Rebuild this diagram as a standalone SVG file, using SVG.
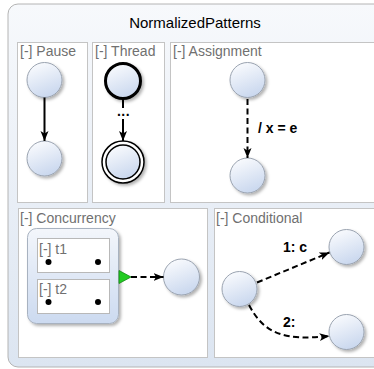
<svg xmlns="http://www.w3.org/2000/svg" width="374" height="369" viewBox="0 0 374 369">
<defs>
<linearGradient id="outerG" x1="0" y1="0" x2="0" y2="1"><stop offset="0" stop-color="#f7f9fc"/><stop offset="1" stop-color="#dce5f1"/></linearGradient>
<linearGradient id="stateG" x1="0.2" y1="0" x2="0.6" y2="1"><stop offset="0" stop-color="#fbfcfe"/><stop offset="1" stop-color="#c9d7ee"/></linearGradient>
<linearGradient id="macroG" x1="0" y1="0" x2="0" y2="1"><stop offset="0" stop-color="#f3f6fb"/><stop offset="1" stop-color="#ccdaf0"/></linearGradient>
<filter id="sh" x="-30%" y="-30%" width="170%" height="170%"><feDropShadow dx="2" dy="2" stdDeviation="1.5" flood-color="#000" flood-opacity="0.3"/></filter>
<marker id="ah" viewBox="0 0 10 10" refX="10" refY="5" markerWidth="10" markerHeight="10" markerUnits="userSpaceOnUse" orient="auto"><path d="M0,1 L10,5 L0,9 L2.5,5 Z" fill="#000"/></marker>
<style>
.panel{fill:#fff;stroke:#c4c4c4;stroke-width:1}
.lbl{font-family:"Liberation Sans",Arial,sans-serif;font-size:14px;fill:#707070}
.st{fill:url(#stateG);stroke:#9aa3b0;stroke-width:1;filter:url(#sh)}
.e{fill:none;stroke:#000;stroke-width:2}
.d{stroke-dasharray:6,3.5}
.el{font-family:"Liberation Sans",Arial,sans-serif;font-size:14px;font-weight:bold;fill:#000}
.dot{fill:#000}
</style>
</defs>
<g id="root">
<rect x="8" y="4" width="400" height="363" rx="10" fill="url(#outerG)" stroke="#b4b4b4" stroke-width="1"/>
<text x="195" y="28" text-anchor="middle" font-family="Liberation Sans,Arial,sans-serif" font-size="15" fill="#000">NormalizedPatterns</text>
</g>
<g id="pause">
<rect class="panel" x="17.5" y="42.5" width="70" height="160"/>
<text class="lbl" x="20" y="56">[-] Pause</text>
<circle id="pause-s1" class="st" cx="44.5" cy="80" r="17.5"/>
<circle id="pause-s2" class="st" cx="44.5" cy="158.5" r="17.5"/>
</g>
<g id="thread">
<rect class="panel" x="92.5" y="42.5" width="72" height="160"/>
<text class="lbl" x="95" y="56">[-] Thread</text>
<circle id="thread-s1" class="st" cx="123" cy="81" r="17.5" style="stroke:#000;stroke-width:3"/>
<g id="thread-s2">
<circle cx="123" cy="162" r="21" fill="#fff" stroke="#000" stroke-width="1.5" filter="url(#sh)"/>
<circle cx="123" cy="162" r="17" fill="url(#stateG)" stroke="#000" stroke-width="1.5"/>
</g>
</g>
<g id="assignment">
<rect class="panel" x="170.5" y="42.5" width="220" height="160"/>
<text class="lbl" x="173" y="56">[-] Assignment</text>
<circle id="assign-s1" class="st" cx="247.5" cy="80" r="17.5"/>
<circle id="assign-s2" class="st" cx="247.5" cy="175.5" r="17.5"/>
</g>
<g id="concurrency">
<rect class="panel" x="18.5" y="208.5" width="189" height="149"/>
<text class="lbl" x="20" y="223">[-] Concurrency</text>
<rect id="macro" x="27.5" y="228.5" width="91" height="95" rx="9" fill="url(#macroG)" stroke="#a8b2c0" stroke-width="1" filter="url(#sh)"/>
<g id="t1">
<rect x="37.5" y="238.5" width="72" height="34" fill="#fff" stroke="#b8b8b8"/>
<text class="lbl" x="39" y="254">[-] t1</text>
<circle class="dot" cx="48.5" cy="262" r="3"/>
<circle class="dot" cx="98" cy="262" r="3"/>
</g>
<g id="t2">
<rect x="37.5" y="279.5" width="72" height="34" fill="#fff" stroke="#b8b8b8"/>
<text class="lbl" x="39" y="294">[-] t2</text>
<circle class="dot" cx="48.5" cy="302" r="3"/>
<circle class="dot" cx="98" cy="302" r="3"/>
</g>
<circle id="conc-s1" class="st" cx="181.5" cy="277" r="18"/>
</g>
<g id="conditional">
<rect class="panel" x="214.5" y="208.5" width="180" height="149"/>
<text class="lbl" x="216" y="223">[-] Conditional</text>
<circle id="cond-s0" class="st" cx="239.5" cy="289" r="17.5"/>
<circle id="cond-s1" class="st" cx="346.5" cy="247" r="17.5"/>
<circle id="cond-s2" class="st" cx="346.5" cy="332" r="17.5"/>
</g>
<g id="connectors">
<line class="e" x1="44.5" y1="97.5" x2="44.5" y2="141" marker-end="url(#ah)"/>
<line class="e" x1="123" y1="99" x2="123" y2="108"/>
<text class="el" x="123.5" y="116" text-anchor="middle" letter-spacing="0.5">...</text>
<line class="e" x1="123" y1="119" x2="123" y2="141" marker-end="url(#ah)"/>
<line class="e d" x1="247.5" y1="99" x2="247.5" y2="158" marker-end="url(#ah)"/>
<text class="el" x="258" y="133">/ x = e</text>
<path d="M119,270.5 L131,277 L119,283.5 Z" fill="#22cc22" stroke="#118811" stroke-width="0.8"/>
<line class="e d" x1="131" y1="277" x2="163.5" y2="277" marker-end="url(#ah)"/>
<line class="e d" x1="257" y1="282.5" x2="329.5" y2="252.5" marker-end="url(#ah)"/>
<text class="el" x="283" y="252">1: c</text>
<path class="e d" d="M249,305 C264,334 285,341 329.5,336" marker-end="url(#ah)"/>
<text class="el" x="283" y="327">2:</text>
</g>
</svg>
